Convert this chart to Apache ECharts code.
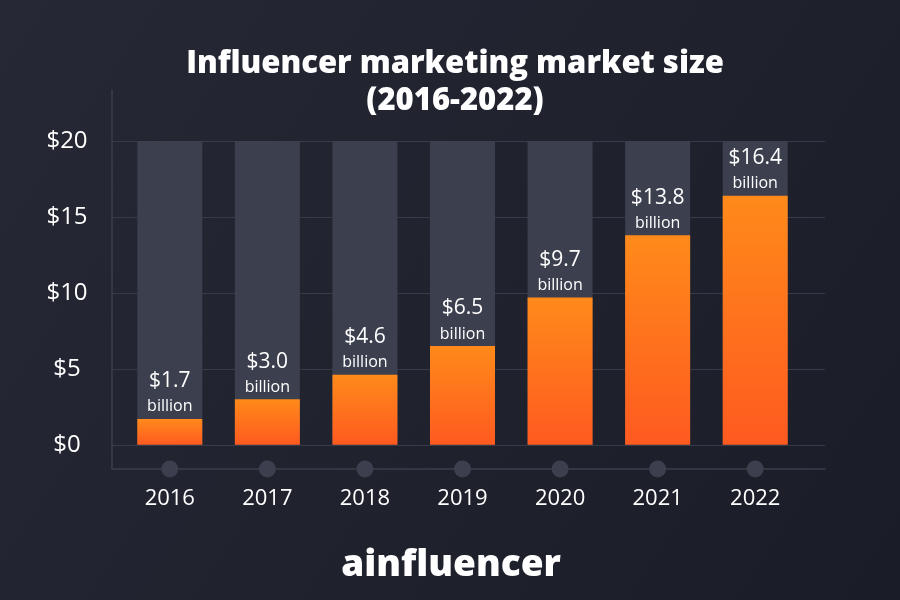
<!DOCTYPE html>
<html><head><meta charset="utf-8">
<script src="https://cdn.jsdelivr.net/npm/echarts@6/dist/echarts.min.js"></script>
<style>html,body{margin:0;padding:0;background:#1d2029}#c{width:900px;height:600px}</style>
</head><body><div id="c"></div>
<script>
const years = ['2016','2017','2018','2019','2020','2021','2022'];
const marketSize = [1.7, 3.0, 4.6, 6.5, 9.7, 13.8, 16.4];
const scaleMax = [20, 20, 20, 20, 20, 20, 20];
const yTicks = [0, 5, 10, 15, 20];
const titleText = 'Influencer marketing market size\n(2016-2022)';
const brandText = 'ainfluencer';

const FONT = 'Open Sans';
const chart = echarts.init(document.getElementById('c'));
chart.setOption({
  backgroundColor: new echarts.graphic.LinearGradient(0, 0, 1, 1, [
    {offset: 0, color: '#262935'}, {offset: 1, color: '#1a1c27'}
  ]),
  animation: false,
  title: [
    {text: titleText, left: 450, top: 41, textAlign: 'center',
     textStyle: {color: '#fff', fontFamily: FONT, fontWeight: 800, fontSize: 31, lineHeight: 37}},
    {text: brandText, left: 446, top: 542, textAlign: 'center',
     textStyle: {color: '#fff', fontFamily: FONT, fontWeight: 800, fontSize: 37}}
  ],
  grid: [
    {left: 112, right: 75, top: 141, bottom: 155},
    {left: 121, right: 96, top: 141, bottom: 131},
    {left: 112, right: 75, top: 90, bottom: 131}
  ],
  xAxis: [
    {gridIndex: 0, type: 'category', data: years, show: false},
    {gridIndex: 1, type: 'category', data: years,
     axisLine: {show: false}, axisTick: {show: false},
     axisLabel: {color: '#fff', fontFamily: FONT, fontSize: 22, margin: 19}},
    {gridIndex: 2, type: 'value', min: 0, max: 1,
     axisLine: {show: true, lineStyle: {color: '#3b3e4c', width: 1.5}},
     axisTick: {show: false}, axisLabel: {show: false}, splitLine: {show: false}}
  ],
  yAxis: [
    {gridIndex: 0, type: 'value', min: 0, max: 20, interval: 5,
     axisLine: {show: false}, axisTick: {show: false},
     axisLabel: {color: '#fff', fontFamily: FONT, fontSize: 24, margin: 45, align: 'center',
       formatter: v => yTicks.includes(v) ? '$' + v : ''},
     splitLine: {lineStyle: {color: '#373a48', width: 1}}},
    {gridIndex: 1, type: 'value', min: -1.6, max: 20, show: false},
    {gridIndex: 2, type: 'value', min: 0, max: 1,
     axisLine: {show: true, lineStyle: {color: '#3b3e4c', width: 1.5}},
     axisTick: {show: false}, axisLabel: {show: false}, splitLine: {show: false}}
  ],
  series: [
    {type: 'bar', xAxisIndex: 1, yAxisIndex: 1, data: scaleMax, barWidth: 65, barGap: '-100%',
     itemStyle: {color: '#3c3f4e'}, silent: true, z: 1},
    {type: 'bar', xAxisIndex: 1, yAxisIndex: 1, data: marketSize, barWidth: 65, barGap: '-100%',
     itemStyle: {color: new echarts.graphic.LinearGradient(0, 0, 0, 1, [
       {offset: 0, color: '#ff8a1a'}, {offset: 1, color: '#ff5a20'}])}, z: 2,
     label: {show: true, position: 'top', distance: 1,
       formatter: p => '{a|$' + p.value.toFixed(1) + '}\n{b|billion}',
       rich: {a: {color: '#fff', fontFamily: FONT, fontSize: 21, lineHeight: 29, align: 'center'},
              b: {color: '#fff', fontFamily: FONT, fontSize: 16, lineHeight: 22, align: 'center'}}}},
    {type: 'scatter', xAxisIndex: 1, yAxisIndex: 1, data: years.map(() => -1.6),
     symbolSize: 17, clip: false, itemStyle: {color: '#3d3f4e', opacity: 1}, z: 3, silent: true}
  ]
});
</script></body></html>
